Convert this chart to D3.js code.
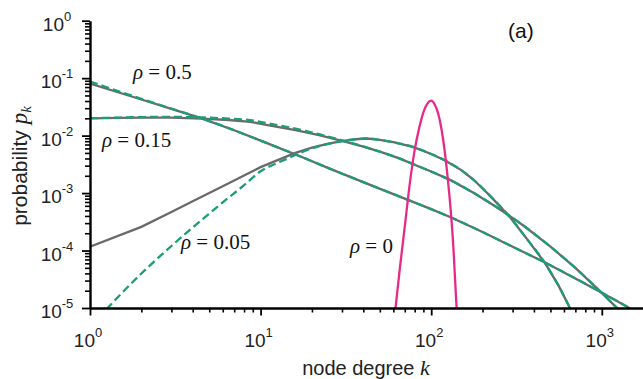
<!DOCTYPE html>
<html>
<head>
<meta charset="utf-8">
<script src="https://cdn.jsdelivr.net/npm/d3@7"></script>
<style>
  body { margin: 0; background: #fff; }
  svg { display: block; }
  .sans { font-family: "Liberation Sans", Arial, sans-serif; }
  .serif { font-family: "Liberation Serif", "Times New Roman", serif; }
</style>
</head>
<body>
<svg id="chart" width="643" height="379"></svg>
<script>
// rho = 0.5
const kRho05 = [1, 2, 3, 4.5, 7, 11, 17, 25, 37, 58, 100, 130, 200, 350, 465, 700, 1000, 1400, 1600];
const pRho05Sim = [0.0805, 0.0425, 0.0293, 0.0200, 0.0124, 0.00731, 0.00438, 0.00272, 0.00170, 0.00100,
  5.25e-4, 3.8e-4, 2.10e-4, 9.33e-5, 6.17e-5, 3.27e-5, 1.85e-5, 1.06e-5, 8.4e-6];
const pRho05Th = [0.0873, 0.0436, 0.0295, 0.0200, 0.0124, 0.00731, 0.00438, 0.00272, 0.00170, 0.00100,
  5.25e-4, 3.8e-4, 2.10e-4, 9.33e-5, 6.17e-5, 3.27e-5, 1.85e-5, 1.06e-5, 8.4e-6];

// rho = 0.15
const kRho015 = [1, 1.5, 2, 3, 4.5, 6.5, 8.7, 11, 16, 22, 30, 40, 50, 65, 86, 100, 130, 180, 250, 350, 500, 700, 975, 1200, 1300];
const pRho015Sim = [0.0200, 0.0203, 0.0205, 0.0205, 0.0198, 0.0187, 0.0174, 0.0153, 0.01245, 0.01016, 0.00813,
  0.00641, 0.00525, 0.00402, 0.00285, 0.00237, 0.00168, 9.84e-4, 5.35e-4, 2.67e-4, 1.17e-4, 4.99e-5, 1.97e-5, 1.07e-5, 8.4e-6];
const pRho015Th = [0.0201, 0.0206, 0.0210, 0.0212, 0.0207, 0.0198, 0.0186, 0.0164, 0.0132, 0.0106, 0.0083,
  0.00648, 0.00527, 0.00402, 0.00285, 0.00237, 0.00168, 9.84e-4, 5.35e-4, 2.67e-4, 1.17e-4, 4.99e-5, 1.97e-5, 1.07e-5, 8.4e-6];

// rho = 0.05
const kRho005 = [1, 2, 3, 4, 5, 6, 8, 10, 13, 16, 20, 25, 30, 36, 42, 50, 60, 78, 100, 120, 150, 176, 220, 290, 360, 465, 560, 650, 700];
const pRho005Sim = [1.17e-4, 2.58e-4, 4.7e-4, 7.2e-4, 1.0e-3, 1.32e-3, 2.03e-3, 2.83e-3, 3.9e-3, 5.0e-3, 6.17e-3,
  7.24e-3, 8.04e-3, 8.65e-3, 8.91e-3, 8.41e-3, 7.67e-3, 6.38e-3, 4.79e-3, 3.72e-3, 2.51e-3, 1.74e-3, 9.12e-4,
  3.80e-4, 1.66e-4, 6.03e-5, 2.40e-5, 1.0e-5, 6.3e-6];
const pRho005Th = [4.7e-6, 3.98e-5, 1.2e-4, 2.52e-4, 4.4e-4, 6.9e-4, 1.37e-3, 2.40e-3, 3.5e-3, 4.6e-3, 6.0e-3,
  7.2e-3, 8.04e-3, 8.65e-3, 8.91e-3, 8.41e-3, 7.67e-3, 6.38e-3, 4.79e-3, 3.72e-3, 2.51e-3, 1.74e-3, 9.12e-4,
  3.80e-4, 1.66e-4, 6.03e-5, 2.40e-5, 1.0e-5, 6.3e-6];

// rho = 0
const kRho0 = [60, 62, 65, 70, 75, 80, 85, 90, 95, 100, 105, 110, 115, 120, 125, 130, 135, 140, 142];
const pRho0 = [5e-6, 1.1e-5, 4e-5, 2.6e-4, 1.5e-3, 5.6e-3, 0.0135, 0.0255, 0.0360, 0.0405, 0.0345, 0.0240,
  0.0128, 5.4e-3, 1.8e-3, 5.2e-4, 1.1e-4, 1.4e-5, 7e-6];

const xMajor = [1, 10, 100, 1000];
const yMajor = [1e-5, 1e-4, 1e-3, 1e-2, 1e-1, 1];
const xExp = ['0', '1', '2', '3'];
const yExp = ['-5', '-4', '-3', '-2', '-1', '0'];

const labels = [
  {txt: '0.5', x: 133, y: 79},
  {txt: '0.15', x: 102, y: 147},
  {txt: '0.05', x: 181, y: 249},
  {txt: '0', x: 350, y: 253}
];

const svg = d3.select('#chart');
const mLeft = 90, mRight = 643, mTop = 20.7, mBottom = 308;

const x = d3.scaleLog().domain([1, 1750]).range([mLeft, mLeft + 170.6 * Math.log10(1750)]);
const y = d3.scaleLog().domain([1e-5, 1]).range([mBottom, mTop]);

const grey = '#6a6a6a', green = '#1b9e77', pink = '#e7298a';

svg.append('defs').append('clipPath').attr('id', 'clip')
  .append('rect').attr('x', mLeft).attr('y', mTop).attr('width', mRight - mLeft).attr('height', mBottom - mTop);

const plot = svg.append('g').attr('clip-path', 'url(#clip)');

function pts(ks, ps) { return ks.map((k, i) => [k, ps[i]]); }

const lineLin = d3.line().x(d => x(d[0])).y(d => y(d[1])).curve(d3.curveLinear);
const lineSmooth = d3.line().x(d => x(d[0])).y(d => y(d[1])).curve(d3.curveMonotoneX);

// simulation (grey solid)
[[kRho05, pRho05Sim], [kRho015, pRho015Sim], [kRho005, pRho005Sim]].forEach(s => {
  plot.append('path').attr('d', lineLin(pts(s[0], s[1])))
    .attr('fill', 'none').attr('stroke', grey).attr('stroke-width', 2.3);
});

// theory (green dashed)
[[kRho05, pRho05Th], [kRho015, pRho015Th], [kRho005, pRho005Th]].forEach(s => {
  plot.append('path').attr('d', lineSmooth(pts(s[0], s[1])))
    .attr('fill', 'none').attr('stroke', green).attr('stroke-width', 2.3)
    .attr('stroke-dasharray', '8,4');
});

// rho = 0
plot.append('path').attr('d', lineSmooth(pts(kRho0, pRho0)))
  .attr('fill', 'none').attr('stroke', pink).attr('stroke-width', 2.3);

// axes
function minors(lo, hi) {
  const out = [];
  for (let e = lo; e < hi; e++) for (let m = 2; m <= 9; m++) {
    out.push(m * Math.pow(10, e));
  }
  return out;
}

const xMinor = minors(0, 4).filter(v => v <= 1750);
const yMinor = minors(-5, 0);

const gx = svg.append('g').attr('transform', `translate(0,${mBottom})`);
gx.call(d3.axisBottom(x).tickValues(xMinor).tickSize(4.5).tickSizeOuter(0).tickFormat(''));
gx.selectAll('.tick line').attr('stroke-width', 1.6);
gx.select('.domain').remove();
const gx2 = svg.append('g').attr('transform', `translate(0,${mBottom})`);
gx2.call(d3.axisBottom(x).tickValues(xMajor).tickSize(7.5).tickSizeOuter(0).tickFormat(''));
gx2.selectAll('.tick line').attr('stroke-width', 1.8);
gx2.select('.domain').attr('stroke-width', 2.4);

const gy = svg.append('g').attr('transform', `translate(${mLeft},0)`);
gy.call(d3.axisLeft(y).tickValues(yMinor).tickSize(5).tickSizeOuter(0).tickFormat(''));
gy.selectAll('.tick line').attr('stroke-width', 1.6);
gy.select('.domain').remove();
const gy2 = svg.append('g').attr('transform', `translate(${mLeft},0)`);
gy2.call(d3.axisLeft(y).tickValues(yMajor).tickSize(8).tickSizeOuter(0).tickFormat(''));
gy2.selectAll('.tick line').attr('stroke-width', 1.8);
gy2.select('.domain').attr('stroke-width', 2.4);

// tick labels
xMajor.forEach((v, i) => {
  const t = svg.append('text').attr('class', 'sans').attr('x', x(v) - 2).attr('y', 347)
    .attr('text-anchor', 'middle').attr('font-size', 19).attr('fill', '#222');
  t.append('tspan').text('10');
  t.append('tspan').attr('dy', -10).attr('font-size', 13).text(xExp[i]);
});
yMajor.forEach((v, i) => {
  const t = svg.append('text').attr('class', 'sans').attr('x', 57).attr('y', y(v) + 10)
    .attr('text-anchor', 'middle').attr('font-size', 19).attr('fill', '#222');
  t.append('tspan').text('10');
  t.append('tspan').attr('dy', -10).attr('font-size', 13).text(yExp[i]);
});

// axis titles
const xt = svg.append('text').attr('class', 'sans').attr('x', 366).attr('y', 375)
  .attr('text-anchor', 'middle').attr('font-size', 20).attr('fill', '#222');
xt.append('tspan').text('node degree ');
xt.append('tspan').attr('class', 'serif').attr('font-style', 'italic').attr('font-size', 22).text('k');

const yt = svg.append('text').attr('class', 'sans')
  .attr('transform', 'translate(27,166) rotate(-90)')
  .attr('text-anchor', 'middle').attr('font-size', 21).attr('fill', '#222');
yt.append('tspan').text('probability ');
yt.append('tspan').attr('class', 'serif').attr('font-style', 'italic').attr('font-size', 23).text('p');
yt.append('tspan').attr('class', 'serif').attr('font-style', 'italic').attr('font-size', 15).attr('dy', 4).text('k');

// rho labels
labels.forEach(l => {
  const t = svg.append('text').attr('class', 'serif').attr('x', l.x).attr('y', l.y)
    .attr('font-size', 21).attr('fill', '#111');
  t.append('tspan').attr('font-style', 'italic').text('\u03c1');
  t.append('tspan').text(' = ' + l.txt);
});

svg.append('text').attr('class', 'sans').attr('x', 508).attr('y', 38)
  .attr('font-size', 21).attr('fill', '#111').text('(a)');
</script>
</body>
</html>
